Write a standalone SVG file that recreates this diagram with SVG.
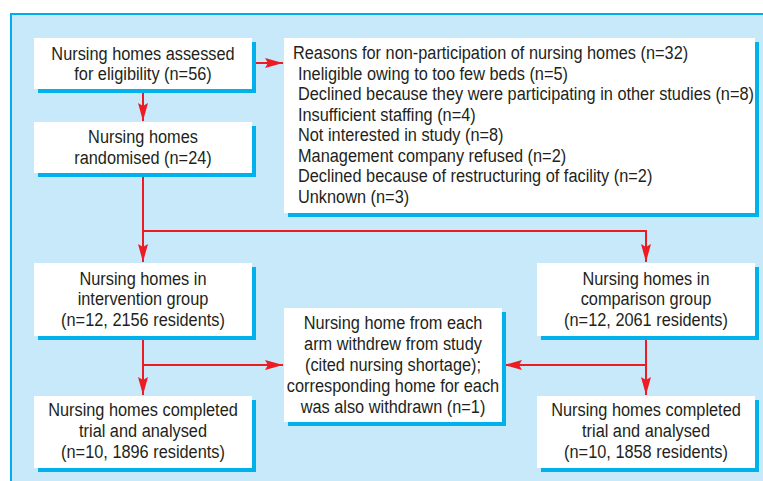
<svg xmlns="http://www.w3.org/2000/svg" width="763" height="481" viewBox="0 0 763 481">
<style>
.box{fill:#ffffff}
.sh{fill:#00b1ec}
.t{font-family:"Liberation Sans",Arial,sans-serif;font-size:19px;fill:#231f20}
.c{text-anchor:middle}
.ln{fill:none;stroke:#ed1c24;stroke-width:2}
</style>
<defs>
<marker id="ah" markerUnits="userSpaceOnUse" markerWidth="18" markerHeight="10" refX="18" refY="5" orient="auto" viewBox="0 0 18 10">
<path d="M0,0 L18,5 L0,10 L3,5 z" fill="#ed1c24"/>
</marker>
</defs>
<rect x="0" y="0" width="763" height="481" fill="#ffffff"/>
<rect x="11" y="14" width="770" height="480" fill="#c7e9f9" stroke="#00aeef" stroke-width="2"/>

<g id="connectors">
<path class="ln" d="M143,92 V121" marker-end="url(#ah)"/>
<path class="ln" d="M256,63 H283" marker-end="url(#ah)"/>
<path class="ln" d="M143,173 V231 H646 V262" marker-end="url(#ah)"/>
<path class="ln" d="M143,231 V262" marker-end="url(#ah)"/>
<path class="ln" d="M143,339 V395" marker-end="url(#ah)"/>
<path class="ln" d="M143,365 H283" marker-end="url(#ah)"/>
<path class="ln" d="M646,339 V395" marker-end="url(#ah)"/>
<path class="ln" d="M646,365 H504" marker-end="url(#ah)"/>
</g>

<g id="assessed">
<rect class="sh" x="38" y="42" width="218" height="51"/>
<rect class="box" x="34" y="38" width="218" height="51"/>
<text class="t c" transform="matrix(.86 0 0 1 143 59.5)">Nursing homes assessed</text>
<text class="t c" transform="matrix(.86 0 0 1 143 80)">for eligibility (n=56)</text>
</g>

<g id="randomised">
<rect class="sh" x="38" y="126" width="218" height="51"/>
<rect class="box" x="34" y="122" width="218" height="51"/>
<text class="t c" transform="matrix(.86 0 0 1 143 142.5)">Nursing homes</text>
<text class="t c" transform="matrix(.86 0 0 1 143 164)">randomised (n=24)</text>
</g>

<g id="reasons">
<rect class="sh" x="288" y="42" width="471" height="175"/>
<rect class="box" x="284" y="38" width="471" height="175"/>
<text class="t" transform="matrix(.86 0 0 1 293 59)">Reasons for non-participation of nursing homes (n=32)</text>
<text class="t" transform="matrix(.86 0 0 1 298 79.5)">Ineligible owing to too few beds (n=5)</text>
<text class="t" transform="matrix(.86 0 0 1 298 100)">Declined because they were participating in other studies (n=8)</text>
<text class="t" transform="matrix(.86 0 0 1 298 120.5)">Insufficient staffing (n=4)</text>
<text class="t" transform="matrix(.86 0 0 1 298 141)">Not interested in study (n=8)</text>
<text class="t" transform="matrix(.86 0 0 1 298 161.5)">Management company refused (n=2)</text>
<text class="t" transform="matrix(.86 0 0 1 298 182)">Declined because of restructuring of facility (n=2)</text>
<text class="t" transform="matrix(.86 0 0 1 298 202.5)">Unknown (n=3)</text>
</g>

<g id="intervention">
<rect class="sh" x="38" y="267" width="218" height="73"/>
<rect class="box" x="34" y="263" width="218" height="73"/>
<text class="t c" transform="matrix(.86 0 0 1 143 284.5)">Nursing homes in</text>
<text class="t c" transform="matrix(.86 0 0 1 143 305)">intervention group</text>
<text class="t c" transform="matrix(.86 0 0 1 143 326)">(n=12, 2156 residents)</text>
</g>

<g id="comparison">
<rect class="sh" x="541" y="267" width="218" height="73"/>
<rect class="box" x="537" y="263" width="218" height="73"/>
<text class="t c" transform="matrix(.86 0 0 1 646 284.5)">Nursing homes in</text>
<text class="t c" transform="matrix(.86 0 0 1 646 305)">comparison group</text>
<text class="t c" transform="matrix(.86 0 0 1 646 326)">(n=12, 2061 residents)</text>
</g>

<g id="withdrawn">
<rect class="sh" x="288" y="312" width="218" height="114"/>
<rect class="box" x="284" y="308" width="218" height="114"/>
<text class="t c" transform="matrix(.86 0 0 1 393 329)">Nursing home from each</text>
<text class="t c" transform="matrix(.86 0 0 1 393 350)">arm withdrew from study</text>
<text class="t c" transform="matrix(.86 0 0 1 393 371)">(cited nursing shortage);</text>
<text class="t c" transform="matrix(.86 0 0 1 393 392)">corresponding home for each</text>
<text class="t c" transform="matrix(.86 0 0 1 393 413)">was also withdrawn (n=1)</text>
</g>

<g id="completed-intervention">
<rect class="sh" x="38" y="400" width="218" height="72"/>
<rect class="box" x="34" y="396" width="218" height="72"/>
<text class="t c" transform="matrix(.86 0 0 1 143 415.5)">Nursing homes completed</text>
<text class="t c" transform="matrix(.86 0 0 1 143 437)">trial and analysed</text>
<text class="t c" transform="matrix(.86 0 0 1 143 458)">(n=10, 1896 residents)</text>
</g>

<g id="completed-comparison">
<rect class="sh" x="541" y="400" width="218" height="72"/>
<rect class="box" x="537" y="396" width="218" height="72"/>
<text class="t c" transform="matrix(.86 0 0 1 646 415.5)">Nursing homes completed</text>
<text class="t c" transform="matrix(.86 0 0 1 646 437)">trial and analysed</text>
<text class="t c" transform="matrix(.86 0 0 1 646 458)">(n=10, 1858 residents)</text>
</g>
</svg>
